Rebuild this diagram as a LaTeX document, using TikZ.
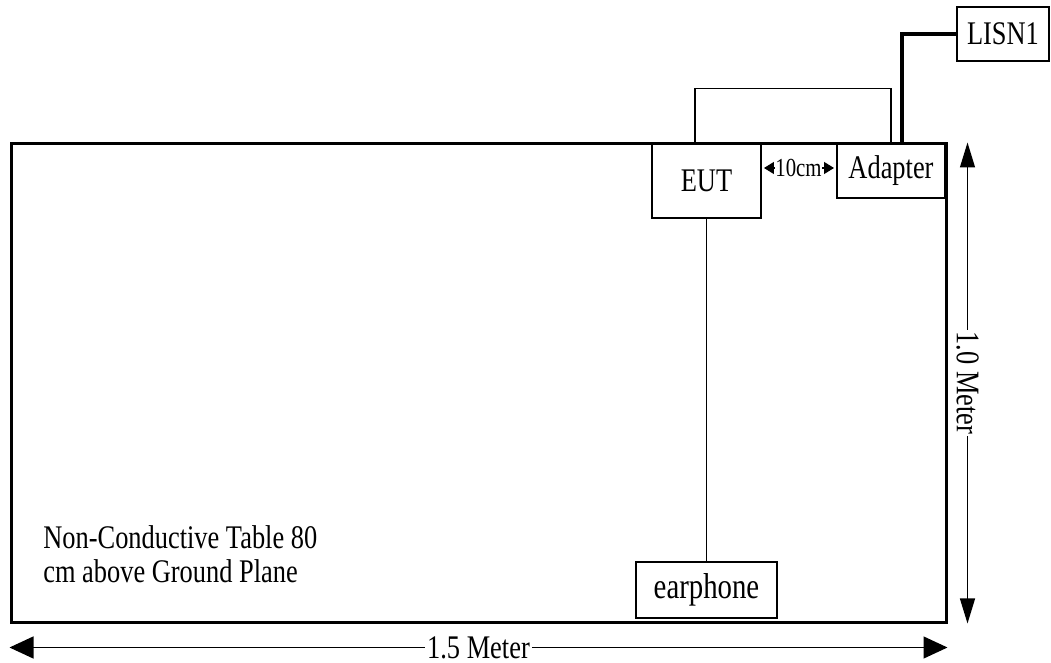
\documentclass[tikz,border=0pt]{standalone}
\usepackage{fontspec}
\setmainfont{Liberation Serif}[FakeStretch=0.8]
\usetikzlibrary{arrows.meta}

\begin{document}
\begin{tikzpicture}[x=0.5pt,y=-0.5pt,
        txt/.style={font=\fontsize{16.5}{17}\selectfont},
        box/.style={txt,draw,line width=0.65pt,inner sep=0pt},
        wire/.style={line width=0.65pt},
        power/.style={line width=1.7pt},
        dimh/.style={line width=0.65pt,{Triangle[length=12pt,width=11pt]}-{Triangle[length=12pt,width=11pt]}},
        dimv/.style={line width=0.65pt,{Triangle[length=12.5pt,width=7.5pt]}-{Triangle[length=12.5pt,width=7.5pt]}},
        gaptip/.style={line width=0.65pt,-{Triangle[length=5pt,width=6pt]}}]

    \useasboundingbox (0,0) rectangle (1051,663);

    % table and equipment
    \node[draw,line width=1.5pt,minimum width=467.5pt,minimum height=239pt,inner sep=0pt] (table) at (478.5,383) {};
    \node[box,minimum width=54.5pt,minimum height=37pt] (eut) at (706.5,181) {EUT};
    \node[box,minimum width=54pt,minimum height=27pt] (adapter) at (891,171) {Adapter};
    \node[box,minimum width=46pt,minimum height=27pt] (lisn) at (1003,34) {LISN1};
    \node[box,minimum width=70.5pt,minimum height=28pt,font=\fontsize{18}{18}\selectfont] (ear) at (706.5,590) {earphone};

    % cables
    \draw[wire] (eut.south) -- (ear.north);
    \draw[wire] ([xshift=-5.75pt]eut.north) -- ++(0,-55) -| (adapter.north);
    \draw[power] ([xshift=5.5pt]adapter.north) |- (lisn.west);

    % 10cm spacing
    \node[font=\fontsize{13}{13}\selectfont,inner sep=0pt] (gap) at (798.5,168) {10cm};
    \draw[gaptip] (gap.west) -- ++(-11,0);
    \draw[gaptip] (gap.east) -- ++(12,0);

    % dimensions
    \draw[dimh] ([yshift=-12pt]table.south west) -- ([yshift=-12pt]table.south east)
        node[midway,txt,fill=white,inner sep=1pt] (len) {1.5 Meter};
    \draw[dimv] ([xshift=10pt]table.north east) -- ([xshift=10pt]table.south east)
        node[midway,txt,fill=white,inner sep=1pt,rotate=-90] (wid) {1.0 Meter};

    \node[txt,anchor=base west,align=left,inner sep=0pt] (note) at (43,582)
        {Non-Conductive Table 80\\cm above Ground Plane};

\end{tikzpicture}
\end{document}
